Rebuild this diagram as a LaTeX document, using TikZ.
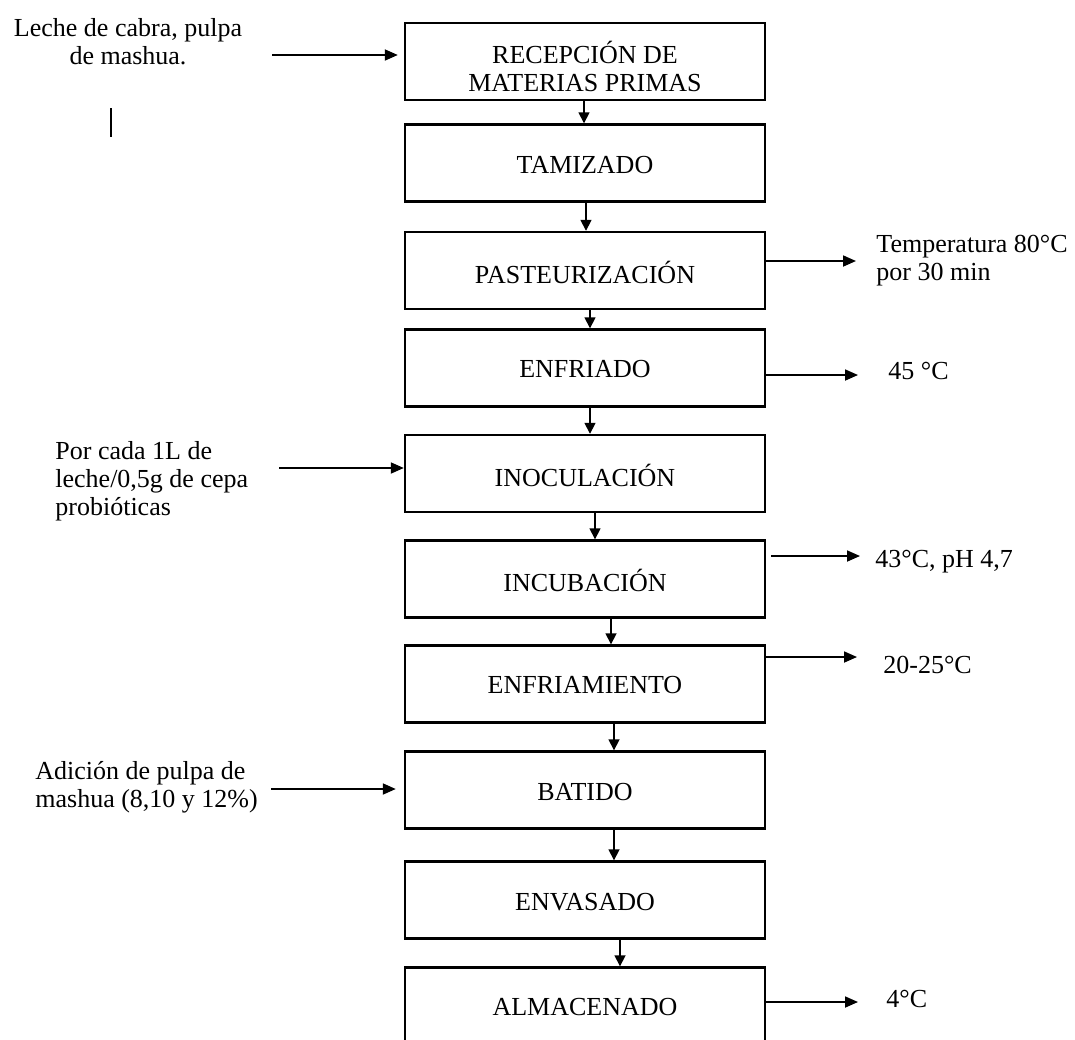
\documentclass[tikz,border=0pt]{standalone}
\usepackage{fontspec}
\setmainfont{Liberation Serif}
\usetikzlibrary{arrows.meta}
\begin{document}
\begin{tikzpicture}[x=0.5pt,y=-0.5pt,
  box/.style={draw, line width=1.2pt, minimum width=180pt, minimum height=38.5pt, inner sep=0pt},
  boxtext/.style={inner sep=0pt, align=center, font=\fontsize{13}{14}\selectfont},
  lab/.style={inner sep=0pt, font=\fontsize{13}{14}\selectfont},
  arr/.style={-{Triangle[length=6.5pt,width=5.5pt]}, line width=0.9pt},
  varr/.style={-{Triangle[length=5.5pt,width=5.5pt]}, line width=0.8pt}]
\clip (0,0) rectangle (1075,1039);
\fill[white] (0,0) rectangle (1075,1039);
% process boxes
\node[box] (b1) at (585,61.5) {};
\node[box] (b2) at (585,163) {};
\node[box] (b3) at (585,270.5) {};
\node[box] (b4) at (585,368) {};
\node[box] (b5) at (585,473.5) {};
\node[box] (b6) at (585,579) {};
\node[box] (b7) at (585,684) {};
\node[box] (b8) at (585,790) {};
\node[box] (b9) at (585,900) {};
\node[box] (b10) at (585,1006) {};
\node[boxtext] (t1) at ([yshift=-2.5pt]b1.center) {RECEPCIÓN DE\\MATERIAS PRIMAS};
\node[boxtext] (t2) at ([yshift=-1pt]b2.center) {TAMIZADO};
\node[boxtext] (t3) at ([yshift=-1pt]b3.center) {PASTEURIZACIÓN};
\node[boxtext] (t4) at ([yshift=-0.5pt]b4.center) {ENFRIADO};
\node[boxtext] (t5) at ([yshift=-1pt]b5.center) {INOCULACIÓN};
\node[boxtext] (t6) at ([yshift=-0.5pt]b6.center) {INCUBACIÓN};
\node[boxtext] (t7) at ([yshift=-0.5pt]b7.center) {ENFRIAMIENTO};
\node[boxtext] (t8) at ([yshift=-1pt]b8.center) {BATIDO};
\node[boxtext] (t9) at ([yshift=-1pt]b9.center) {ENVASADO};
\node[boxtext] (t10) at ([yshift=-0.5pt]b10.center) {ALMACENADO};
% vertical arrows
\foreach \a/\b/\d in {b1/b2/-0.5, b2/b3/0.5, b3/b4/2.5, b4/b5/2.5, b5/b6/5, b6/b7/13, b7/b8/14.5, b8/b9/14.5, b9/b10/17.5}
  \draw[varr] ([xshift=\d pt]\a.south) -- ([xshift=\d pt]\b.north);
% left labels
\node[lab, align=center] (l1) at (128,41.5) {Leche de cabra, pulpa\\de mashua.};
\node[lab, align=left, anchor=west] (l5) at (55,481) {Por cada 1L de\\leche/0,5g de cepa\\probióticas};
\node[lab, align=left, anchor=west] (l8) at (35,787) {Adición de pulpa de\\mashua (8,10 y 12\%)};
\coordinate (s1) at (272,55);
\draw[arr, shorten >=3pt] (s1) -- (s1 -| b1.west);
\coordinate (s5) at (279,468);
\draw[arr] (s5) -- (s5 -| b5.west);
\coordinate (s8) at (271,789);
\draw[arr, shorten >=4pt] (s8) -- (s8 -| b8.west);
% stray mark
\draw[line width=0.9pt] (111,108) -- (111,137);
% right labels
\node[lab, align=left, anchor=west] (r3) at (876,261) {Temperatura 80°C\\por 30 min};
\node[lab, anchor=west] (r4) at (888,371) {45 °C};
\node[lab, anchor=west] (r6) at (875,562) {43°C, pH 4,7};
\node[lab, anchor=west] (r7) at (883,665) {20-25°C};
\node[lab, anchor=west] (r10) at (886,999) {4°C};
\coordinate (e3) at (856,261);
\draw[arr] (e3 -| b3.east) -- (e3);
\coordinate (e4) at (858,375);
\draw[arr] (e4 -| b4.east) -- (e4);
\coordinate (e6) at (860,556);
\draw[arr, shorten <=2.5pt] (e6 -| b6.east) -- (e6);
\coordinate (e7) at (857,657);
\draw[arr] (e7 -| b7.east) -- (e7);
\coordinate (e10) at (858,1002);
\draw[arr] (e10 -| b10.east) -- (e10);
\end{tikzpicture}
\end{document}
